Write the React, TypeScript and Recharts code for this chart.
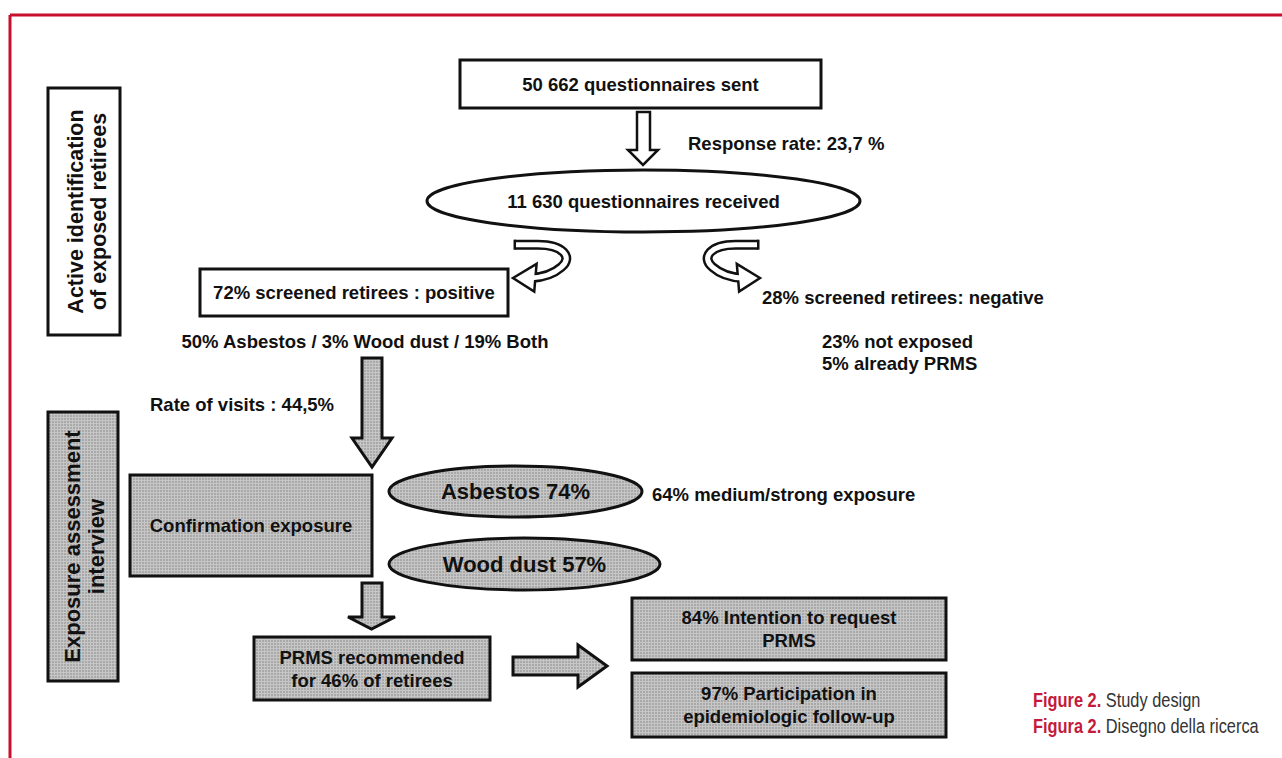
import React from "react";
import {
  ScatterChart,
  Scatter,
  XAxis,
  YAxis,
  ReferenceArea,
  ReferenceLine,
} from "recharts";

// diagram coordinates are in page pixels; axes map 1:1 onto the 1282x758 plot
const W = 1282;
const H = 758;

const boxNodes = [
  { id: "sent", x1: 460, x2: 821, y1: 60, y2: 108, lines: ["50 662 questionnaires sent"] },
  { id: "positive", x1: 200, x2: 508, y1: 269, y2: 316, lines: ["72% screened retirees : positive"] },
  { id: "activeId", x1: 48, x2: 120, y1: 88, y2: 335, lines: ["Active identification", "of exposed retirees"] },
  { id: "interview", x1: 48, x2: 118, y1: 412, y2: 681, lines: ["Exposure assessment", "interview"] },
  { id: "confirm", x1: 130, x2: 372, y1: 475, y2: 576, lines: ["Confirmation exposure"] },
  { id: "prms", x1: 254, x2: 490, y1: 637, y2: 700, lines: ["PRMS recommended", "for 46% of retirees"] },
  { id: "intention", x1: 632, x2: 946, y1: 598, y2: 660, lines: ["84% Intention to request", "PRMS"] },
  { id: "follow", x1: 632, x2: 946, y1: 673, y2: 737, lines: ["97% Participation in", "epidemiologic follow-up"] },
];

const ellipseNodes = [
  { id: "received", x1: 427, x2: 860, y1: 170, y2: 232, label: "11 630 questionnaires received" },
  { id: "asbestos", x1: 389, x2: 642, y1: 466, y2: 517, label: "Asbestos 74%" },
  { id: "wood", x1: 389, x2: 660, y1: 538, y2: 590, label: "Wood dust 57%" },
];

// straight arrows: bounds, shaft band and where the head starts (all in data units)
const straightArrows = [
  { id: "a1", dir: "down", x1: 628, x2: 658, y1: 112, y2: 165, shaft: [637, 650], neck: 150 },
  { id: "a2", dir: "down", x1: 352, x2: 392, y1: 358, y2: 467, shaft: [362, 382], neck: 438 },
  { id: "a3", dir: "down", x1: 348, x2: 395, y1: 583, y2: 629, shaft: [362, 382], neck: 617 },
  { id: "a4", dir: "right", x1: 513, x2: 607, y1: 645, y2: 687, shaft: [657, 675], neck: 578 },
];

const curvedArrows = [
  { id: "c1", dir: "left", x1: 513, x2: 572, y1: 240, y2: 292 },
  { id: "c2", dir: "right", x1: 702, x2: 760, y1: 240, y2: 292 },
];

const annotations = [
  { x: 688, y: 143, text: "Response rate: 23,7 %", anchor: "start" },
  { x: 762, y: 297, text: "28% screened retirees: negative", anchor: "start" },
  { x: 365, y: 341, text: "50% Asbestos / 3% Wood dust / 19% Both", anchor: "middle" },
  { x: 822, y: 341, text: "23% not exposed", anchor: "start" },
  { x: 822, y: 363, text: "5% already PRMS", anchor: "start" },
  { x: 150, y: 404, text: "Rate of visits : 44,5%", anchor: "start" },
  { x: 652, y: 494, text: "64% medium/strong exposure", anchor: "start" },
];

const captionLines = [
  { x: 1033, y: 707, head: "Figure 2.", rest: " Study design" },
  { x: 1033, y: 733, head: "Figura 2.", rest: " Disegno della ricerca" },
];

const frameSegments = [
  [{ x: 10, y: 15 }, { x: W, y: 15 }],
  [{ x: 10, y: 15 }, { x: 10, y: H }],
];

const FONT = "'Liberation Sans', Arial, Helvetica, sans-serif";
const INK = "#111";
const RED = "#c8102e";
const GRID_FILL = "url(#dotGrid)";

const grayIds = new Set(["interview", "confirm", "prms", "intention", "follow", "asbestos", "wood"]);

const verticalText: Record<string, { size: number; gap: number; dx: number }> = {
  activeId: { size: 21.5, gap: 23, dx: 3 },
  interview: { size: 22, gap: 24, dx: 1 },
};

function BoxShape(props: any) {
  const { x, y, width, height, node } = props;
  const cx = x + width / 2;
  const cy = y + height / 2;
  const fill = grayIds.has(node.id) ? GRID_FILL : "#fff";
  const vt = verticalText[node.id];
  const n = node.lines.length;
  return (
    <g>
      <rect x={x} y={y} width={width} height={height} fill={fill} stroke={INK} strokeWidth={3} />
      {vt
        ? node.lines.map((line: string, i: number) => {
            const lx = cx + vt.dx + (i - (n - 1) / 2) * vt.gap;
            return (
              <text
                key={i}
                x={lx}
                y={cy}
                transform={`rotate(-90 ${lx} ${cy})`}
                textAnchor="middle"
                dominantBaseline="central"
                fontFamily={FONT}
                fontWeight="bold"
                fontSize={vt.size}
                fill={INK}
              >
                {line}
              </text>
            );
          })
        : node.lines.map((line: string, i: number) => (
            <text
              key={i}
              x={cx}
              y={cy + (i - (n - 1) / 2) * 23}
              textAnchor="middle"
              dominantBaseline="central"
              fontFamily={FONT}
              fontWeight="bold"
              fontSize={18.5}
              fill={INK}
            >
              {line}
            </text>
          ))}
    </g>
  );
}

function EllipseShape(props: any) {
  const { x, y, width, height, node } = props;
  const gray = grayIds.has(node.id);
  return (
    <g>
      <ellipse
        cx={x + width / 2}
        cy={y + height / 2}
        rx={width / 2}
        ry={height / 2}
        fill={gray ? GRID_FILL : "#fff"}
        stroke={INK}
        strokeWidth={3}
      />
      <text
        x={x + width / 2}
        y={y + height / 2}
        textAnchor="middle"
        dominantBaseline="central"
        fontFamily={FONT}
        fontWeight="bold"
        fontSize={gray ? 22 : 18.5}
        fill={INK}
      >
        {node.label}
      </text>
    </g>
  );
}

function StraightArrowShape(props: any) {
  const { x, y, width, height, arrow } = props;
  let pts: number[][];
  if (arrow.dir === "down") {
    const a = (arrow.shaft[0] - arrow.x1) / (arrow.x2 - arrow.x1);
    const b = (arrow.shaft[1] - arrow.x1) / (arrow.x2 - arrow.x1);
    const k = (arrow.neck - arrow.y1) / (arrow.y2 - arrow.y1);
    pts = [[a, 0], [b, 0], [b, k], [1, k], [0.5, 1], [0, k], [a, k]];
  } else {
    const a = (arrow.shaft[0] - arrow.y1) / (arrow.y2 - arrow.y1);
    const b = (arrow.shaft[1] - arrow.y1) / (arrow.y2 - arrow.y1);
    const k = (arrow.neck - arrow.x1) / (arrow.x2 - arrow.x1);
    pts = [[0, a], [k, a], [k, 0], [1, 0.5], [k, 1], [k, b], [0, b]];
  }
  const d = pts.map(([u, v]) => `${x + u * width},${y + v * height}`).join(" ");
  const hollow = arrow.id === "a1";
  return (
    <polygon
      points={d}
      fill={hollow ? "#fff" : GRID_FILL}
      stroke={INK}
      strokeWidth={hollow ? 2.5 : 3}
      strokeLinejoin="miter"
    />
  );
}

function CurvedArrowShape(props: any) {
  const { x, y, width, height, arrow } = props;
  const flip = arrow.dir === "right";
  const p = (u: number, v: number) => `${x + (flip ? 1 - u : u) * width},${y + v * height}`;
  const ribbon =
    `M${p(0.03, 0.09)} L${p(0.42, 0.09)} ` +
    `C${p(0.85, 0.09)} ${p(1.02, 0.33)} ${p(0.82, 0.52)} ` +
    `C${p(0.68, 0.66)} ${p(0.5, 0.72)} ${p(0.3, 0.73)}`;
  const head = `${p(0, 0.73)} ${p(0.4, 0.46)} ${p(0.36, 0.99)}`;
  const sx = x + (flip ? 0.97 : 0.03) * width;
  const sy = y + 0.09 * height;
  return (
    <g fill="none">
      <path d={ribbon} stroke={INK} strokeWidth={10} />
      <polygon points={head} fill="#fff" stroke={INK} strokeWidth={2.5} strokeLinejoin="miter" />
      <path d={ribbon} stroke="#fff" strokeWidth={5} />
      <line x1={sx} y1={sy - 5} x2={sx} y2={sy + 5} stroke={INK} strokeWidth={2.5} />
    </g>
  );
}

function AnnotationShape(props: any) {
  const { cx, cy, payload } = props;
  return (
    <text
      x={cx}
      y={cy}
      textAnchor={payload.anchor}
      dominantBaseline="central"
      fontFamily={FONT}
      fontWeight="bold"
      fontSize={18.5}
      fill={INK}
    >
      {payload.text}
    </text>
  );
}

// caption face is condensed; squeeze Liberation Sans horizontally to match
function CaptionShape(props: any) {
  const { cx, cy, payload } = props;
  return (
    <g transform={`translate(${cx} ${cy}) scale(0.84 1)`}>
      <text x={0} y={0} fontFamily={FONT} fontSize={19.5}>
        <tspan fill="#c41a3b" fontWeight="bold">
          {payload.head}
        </tspan>
        <tspan fill="#333">{payload.rest}</tspan>
      </text>
    </g>
  );
}

export default function App() {
  return (
    <div style={{ position: "absolute", left: 0, top: 0, background: "#fff" }}>
      <ScatterChart width={W} height={H} margin={{ top: 0, right: 0, bottom: 0, left: 0 }}>
        <defs>
          <pattern id="dotGrid" width={3} height={3} patternUnits="userSpaceOnUse">
            <rect width={3} height={3} fill="#c6c6c6" />
            <rect x={1} y={1} width={2} height={2} fill="#a9a9a9" />
          </pattern>
        </defs>
        <XAxis type="number" dataKey="x" domain={[0, W]} hide />
        <YAxis type="number" dataKey="y" domain={[0, H]} reversed hide />
        {frameSegments.map((seg, i) => (
          <ReferenceLine key={`f${i}`} segment={seg} stroke={RED} strokeWidth={3} ifOverflow="visible" />
        ))}
        {straightArrows.map((a) => (
          <ReferenceArea
            key={a.id}
            x1={a.x1}
            x2={a.x2}
            y1={a.y1}
            y2={a.y2}
            shape={(p: any) => <StraightArrowShape {...p} arrow={a} />}
          />
        ))}
        {curvedArrows.map((a) => (
          <ReferenceArea
            key={a.id}
            x1={a.x1}
            x2={a.x2}
            y1={a.y1}
            y2={a.y2}
            shape={(p: any) => <CurvedArrowShape {...p} arrow={a} />}
          />
        ))}
        {boxNodes.map((n) => (
          <ReferenceArea
            key={n.id}
            x1={n.x1}
            x2={n.x2}
            y1={n.y1}
            y2={n.y2}
            shape={(p: any) => <BoxShape {...p} node={n} />}
          />
        ))}
        {ellipseNodes.map((n) => (
          <ReferenceArea
            key={n.id}
            x1={n.x1}
            x2={n.x2}
            y1={n.y1}
            y2={n.y2}
            shape={(p: any) => <EllipseShape {...p} node={n} />}
          />
        ))}
        <Scatter data={annotations} shape={AnnotationShape} isAnimationActive={false} />
        <Scatter data={captionLines} shape={CaptionShape} isAnimationActive={false} />
      </ScatterChart>
    </div>
  );
}
